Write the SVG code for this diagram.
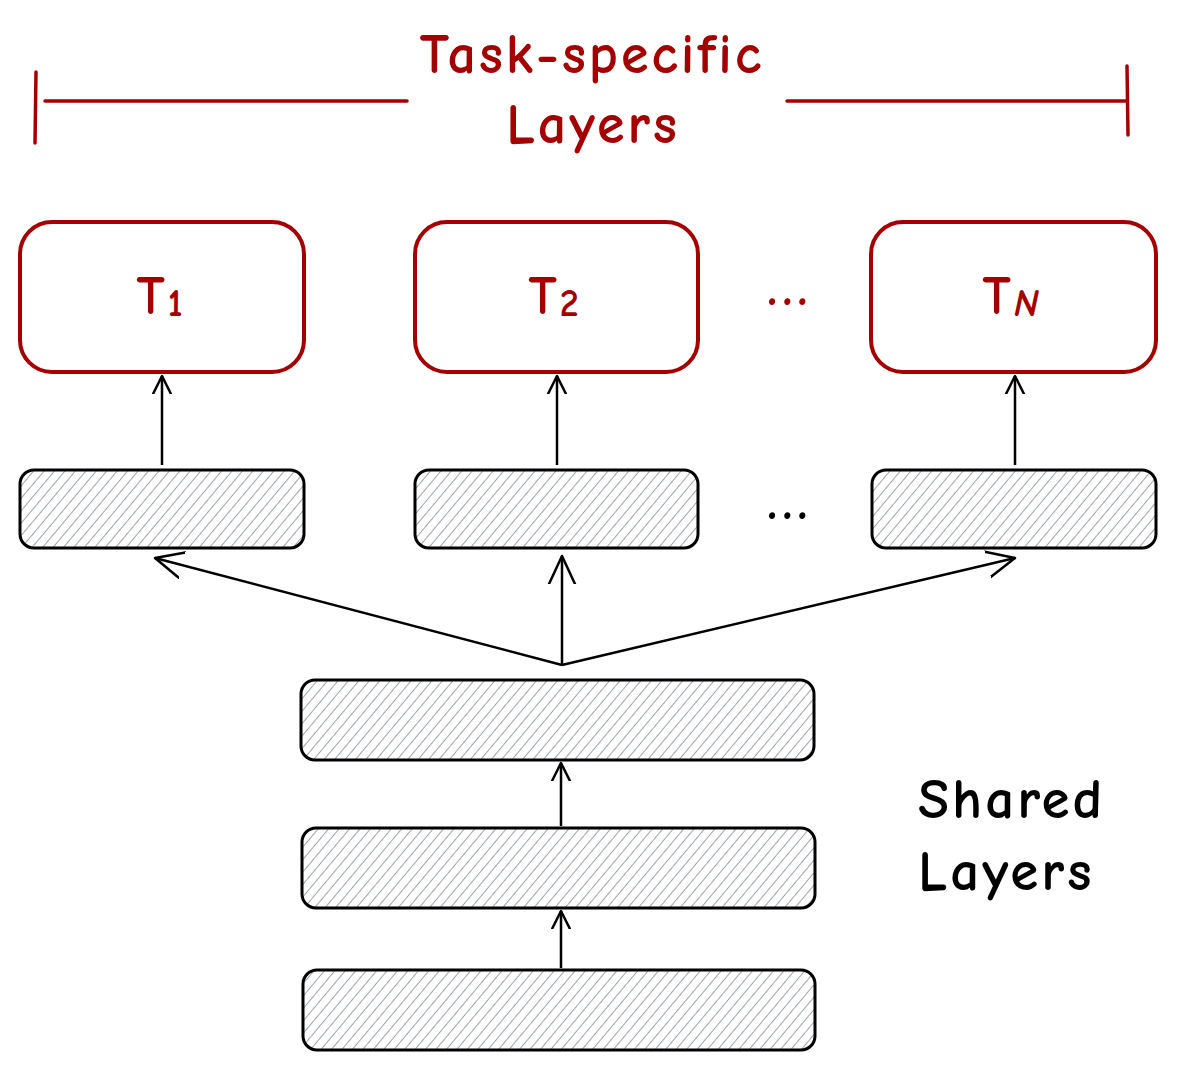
<svg xmlns="http://www.w3.org/2000/svg" width="1177" height="1070" viewBox="0 0 1177 1070">
<defs>
<pattern id="hatch" patternUnits="userSpaceOnUse" width="8" height="8" patternTransform="rotate(40)">
<line x1="0" y1="-2" x2="0" y2="10" stroke="#868e96" stroke-width="1.6"/>
</pattern>
<marker id="arr" viewBox="0 0 20 20" refX="18" refY="10" markerWidth="20" markerHeight="20" markerUnits="userSpaceOnUse" orient="auto">
<path d="M0,1 L18,10 L0,19" fill="none" stroke="#000" stroke-width="2.5" stroke-linecap="round" stroke-linejoin="round"/>
</marker>
<marker id="arrL" viewBox="0 0 30 30" refX="28" refY="15" markerWidth="30" markerHeight="30" markerUnits="userSpaceOnUse" orient="auto">
<path d="M0,2 L28,15 L0,28" fill="none" stroke="#000" stroke-width="2.5" stroke-linecap="round" stroke-linejoin="round"/>
</marker>
</defs>
<style>
.task{fill:#fff;stroke:#a50000;stroke-width:4}
.layer{fill:url(#hatch);stroke:#000;stroke-width:3}
.red{fill:#a50000;font-family:"Comic Neue","Liberation Sans",sans-serif;font-weight:bold}
.blk{fill:#000;font-family:"Comic Neue","Liberation Sans",sans-serif;font-weight:bold}
.bracket{stroke:#a50000;stroke-width:3.5;fill:none;stroke-linecap:round}
.conn{stroke:#000;stroke-width:2.5;fill:none}
</style>
<rect width="1177" height="1070" fill="#fff"/>

<g id="title">
<text class="red" x="592" y="73" font-size="56" text-anchor="middle" letter-spacing="3">Task-specific</text>
<text class="red" x="593" y="143" font-size="56" text-anchor="middle" letter-spacing="3">Layers</text>
<path class="bracket" d="M36,72 L35,143 M45,101 L407,101 M787,101 L1127,101 M1127,66 L1128,135"/>
</g>

<g id="t1"><rect class="task" x="20" y="222" width="284" height="150" rx="32"/><text class="red" x="161" y="314" font-size="54" text-anchor="middle" letter-spacing="3">T<tspan font-size="38" dy="2">1</tspan></text></g>
<g id="t2"><rect class="task" x="415" y="222" width="283" height="150" rx="32"/><text class="red" x="555" y="314" font-size="54" text-anchor="middle" letter-spacing="3">T<tspan font-size="38" dy="2">2</tspan></text></g>
<g id="tn"><rect class="task" x="871" y="222" width="285" height="150" rx="32"/><text class="red" x="1012" y="314" font-size="54" text-anchor="middle" letter-spacing="3">T<tspan font-size="38" dy="2" font-style="italic">N</tspan></text></g>
<g id="dots1"><text class="red" x="790" y="305" font-size="56" text-anchor="middle" letter-spacing="5">...</text></g>

<g id="l1"><rect class="layer" x="20" y="470" width="284" height="78" rx="14"/></g>
<g id="l2"><rect class="layer" x="415" y="470" width="283" height="78" rx="14"/></g>
<g id="ln"><rect class="layer" x="872" y="470" width="284" height="78" rx="14"/></g>
<g id="dots2"><text class="blk" x="790" y="519" font-size="56" text-anchor="middle" letter-spacing="5">...</text></g>

<g id="s3"><rect class="layer" x="301" y="680" width="513" height="80" rx="14"/></g>
<g id="s2"><rect class="layer" x="302" y="828" width="513" height="80" rx="14"/></g>
<g id="s1"><rect class="layer" x="303" y="970" width="512" height="80" rx="14"/></g>

<g id="shared-label">
<text class="blk" x="918" y="818" font-size="57" letter-spacing="3">Shared</text>
<text class="blk" x="918" y="890" font-size="57" letter-spacing="3">Layers</text>
</g>

<g id="connectors">
<line class="conn" x1="162" y1="465" x2="162" y2="376" marker-end="url(#arr)"/>
<line class="conn" x1="557" y1="465" x2="557" y2="376" marker-end="url(#arr)"/>
<line class="conn" x1="1015" y1="465" x2="1015" y2="376" marker-end="url(#arr)"/>
<line class="conn" x1="562" y1="665" x2="155" y2="558" marker-end="url(#arrL)"/>
<line class="conn" x1="562" y1="665" x2="562" y2="556" marker-end="url(#arrL)"/>
<line class="conn" x1="562" y1="665" x2="1015" y2="558" marker-end="url(#arrL)"/>
<line class="conn" x1="561" y1="826" x2="561" y2="763" marker-end="url(#arr)"/>
<line class="conn" x1="561" y1="968" x2="561" y2="911" marker-end="url(#arr)"/>
</g>
</svg>
